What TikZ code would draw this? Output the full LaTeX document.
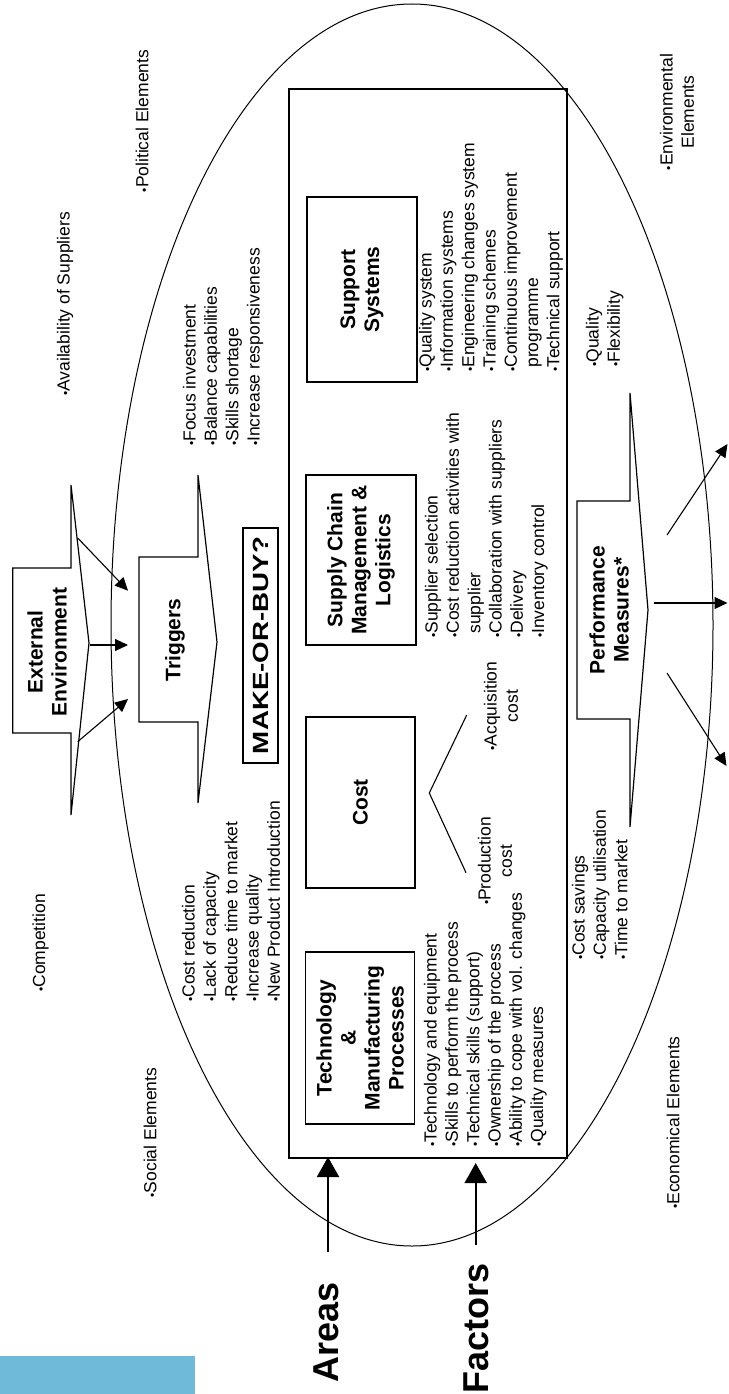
\documentclass[tikz,border=0pt]{standalone}
\usepackage{fontspec}
\usepackage{graphicx}
\setmainfont{Liberation Sans}
\usetikzlibrary{arrows.meta}
\definecolor{bluebar}{RGB}{112,186,217}
\newcommand{\bul}{{\fontsize{12}{12}\selectfont •}}
\begin{document}
\begin{tikzpicture}[x=1pt,y=-1pt,
  txt/.style={rotate=90, inner sep=0pt, font=\fontsize{17.5}{21.3}\selectfont},
  lst/.style={txt, anchor=north west, align=left},
  ctr/.style={txt, align=center},
  hd/.style={rotate=90, inner sep=0pt, align=center, font=\fontsize{21}{24}\selectfont\bfseries},
  bx/.style={draw, line width=1.2pt, rotate=90, inner sep=0pt, align=center, font=\fontsize{21}{24}\selectfont\bfseries},
  shp/.style={draw, line width=1.2pt, line join=miter},
  con/.style={line width=1.1pt, -{Triangle[length=13pt,width=12pt]}},
  big/.style={line width=2pt, -{Triangle[length=20pt,width=22pt]}},
  lbl/.style={rotate=90, inner sep=0pt, font=\fontsize{36}{36}\selectfont\bfseries}]

\useasboundingbox (0,0) rectangle (728,1394);
\fill[bluebar] (0,1356) rectangle (195,1394);

% outer ellipse and inner frame
\draw[line width=1pt] (412,625) ellipse [x radius=301, y radius=621];
\draw[line width=1.2pt] (289,89) rectangle (567,1158);

% block arrows
\draw[shp] (12.7,568) -- (71,568) -- (71,485) -- (89,643) -- (71,815) -- (71,733) -- (12.7,733) -- cycle;
\node[hd] (ext) at (47,652) {External\\Environment};

\draw[shp] (139,557) -- (198,557) -- (198,475) -- (217,642) -- (198,803) -- (198,722) -- (139,722) -- cycle;
\node[hd] (trg) at (175,640) {Triggers};

\draw[shp] (577,501) -- (630,501) -- (630,393) -- (648,610) -- (630,827) -- (630,719) -- (577,719) -- cycle;
\node[hd] (pm) at (609,610) {Performance\\Measures*};

% boxes
\node[bx, minimum width=235, minimum height=35] (mob) at (260.5,645.5) {\scalebox{1.26}[1]{\fontsize{22}{22}\selectfont MAKE-OR-BUY?}};
\node[bx, minimum width=185, minimum height=110] (sup) at (362,289.5) {Support\\Systems};
\node[bx, minimum width=170, minimum height=110] (scm) at (361,560) {Supply Chain\\Management \&\\Logistics};
\node[bx, minimum width=171, minimum height=109] (cost) at (360.5,802.5) {Cost};
\node[bx, minimum width=172, minimum height=109] (tech) at (360,1038) {Technology\\\&\\Manufacturing\\Processes};

% lists
\node[lst] (l1) at (181.8,1002) {\bul Cost reduction\\\bul Lack of capacity\\\bul Reduce time to market\\\bul Increase quality\\\bul New Product Introduction};
\node[lst] (l2) at (182.8,446) {\bul Focus investment\\\bul Balance capabilities\\\bul Skills shortage\\\bul Increase responsiveness};
\node[lst] (l3) at (423.8,1147) {\bul Technology and equipment\\\bul Skills to perform the process\\\bul Technical skills (support)\\\bul Ownership of the process\\\bul Ability to cope with vol. changes\\\bul Quality measures};
\node[lst] (l4) at (424.8,638) {\bul Supplier selection\\\bul Cost reduction activities with\\\phantom{\bul}supplier\\\bul Collaboration with suppliers\\\bul Delivery\\\bul Inventory control};
\node[lst] (l5) at (418.8,372) {\bul Quality system\\\bul Information systems\\\bul Engineering changes system\\\bul Training schemes\\\bul Continuous improvement\\\phantom{\bul}programme\\\bul Technical support};
\node[lst] (l6) at (571.8,960) {\bul Cost savings\\\bul Capacity utilisation\\\bul Time to market};
\node[lst] (l7) at (585.8,367) {\bul Quality\\\bul Flexibility};

% single texts
\node[txt] (avs) at (65,304) {\bul Availability of Suppliers};
\node[txt] (pol) at (142,121) {\bul Political Elements};
\node[ctr] (env) at (677,112) {\bul Environmental\\Elements};
\node[txt] (comp) at (40.6,943) {\bul Competition};
\node[txt] (soc) at (150,1132.5) {\bul Social Elements};
\node[txt] (eco) at (673,1122.5) {\bul Economical Elements};
\node[ctr] (acq) at (501,706) {\bul Acquisition\\cost};
\node[ctr] (prod) at (495,861) {\bul Production\\cost};

\node[lbl] (areas) at (326,1332) {Areas};
\node[lbl] (factors) at (476,1328) {Factors};

% connectors
\coordinate (e1) at (77.7,538); \coordinate (t1) at (128,590.7);
\coordinate (e2) at (90,645);   \coordinate (t2) at (128,645);
\coordinate (e3) at (77.7,741.7); \coordinate (t3) at (128,699);
\draw[con] (e1) -- (t1);
\draw[con] (e2) -- (t2);
\draw[con] (e3) -- (t3);

\coordinate (p1) at (667,535); \coordinate (q1) at (727.5,444);
\coordinate (p2) at (654,603); \coordinate (q2) at (727.5,603);
\coordinate (p3) at (667,673); \coordinate (q3) at (726.5,766);
\draw[con] (p1) -- (q1);
\draw[con] (p2) -- (q2);
\draw[con] (p3) -- (q3);

\coordinate (v1) at (466.7,715); \coordinate (v0) at (429.3,793); \coordinate (v2) at (466,872.7);
\draw[line width=1.1pt] (v1) -- (v0) -- (v2);

\coordinate (a0) at (328,1252); \coordinate (a1) at (328,1157);
\coordinate (f0) at (475.7,1245); \coordinate (f1) at (475.7,1163);
\draw[big] (a0) -- (a1);
\draw[big] (f0) -- (f1);
\end{tikzpicture}
\end{document}
